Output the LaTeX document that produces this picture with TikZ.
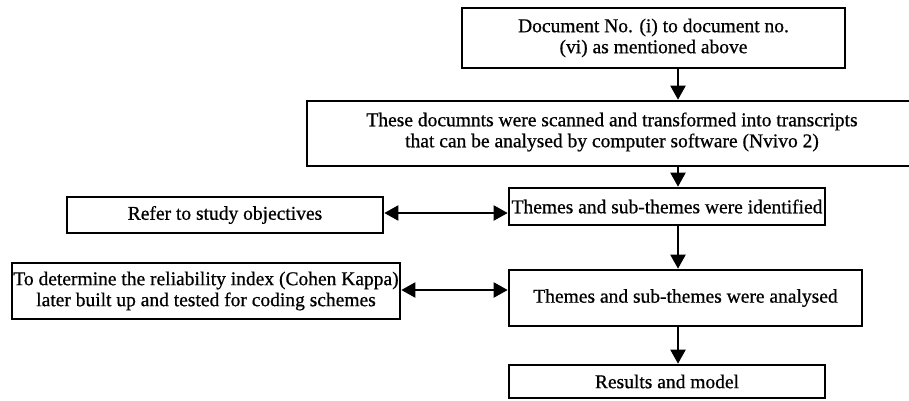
\documentclass[tikz,border=0pt]{standalone}
\usepackage{fontspec}
\setmainfont{Liberation Serif}[FakeBold=0.7]
\usetikzlibrary{arrows.meta}
\begin{document}
\begin{tikzpicture}[x=1pt,y=-1pt,
  box/.style={draw=black, line width=2.6pt, inner sep=0pt, align=center, font=\fontsize{19.5}{21}\selectfont},
  lbl/.style={inner sep=0pt, align=center, font=\fontsize{19.5}{21}\selectfont},
  arr/.style={line width=2pt, -{Triangle[length=14pt,width=15pt]}},
  dbl/.style={line width=2pt, {Triangle[length=14pt,width=15pt]}-{Triangle[length=14pt,width=15pt]}}]
\useasboundingbox (0,0) rectangle (909,400);
\fill[white] (0,0) rectangle (909,400);
\node[box, minimum width=383pt, minimum height=60pt] (b1) at (653.5,38) {Document No. (i) to document no.\\(vi) as mentioned above};
\node[box, minimum width=613pt, minimum height=65pt] (b2) at (613.5,133.5) {};
\node[lbl] (t2) at (612,132) {These documnts were scanned and transformed into transcripts\\that can be analysed by computer software (Nvivo 2)};
\node[box, minimum width=316pt, minimum height=37pt] (b3) at (667,206.5) {Themes and sub-themes were identified};
\node[box, minimum width=316pt, minimum height=36pt] (refer) at (225,215) {Refer to study objectives};
\node[box, minimum width=388pt, minimum height=56pt] (det) at (206,291) {To determine the reliability index (Cohen Kappa)\\later built up and tested for coding schemes};
\node[box, minimum width=353pt, minimum height=56pt] (b4) at (685.5,298) {Themes and sub-themes were analysed};
\node[box, minimum width=316pt, minimum height=33pt] (b5) at (667,381.5) {Results and model};
\coordinate (c1) at (678,0);
\draw[arr] (b1.south -| c1) -- (b2.north -| c1);
\draw[arr] (b2.south -| c1) -- (b3.north -| c1);
\draw[arr] (b3.south -| c1) -- (b4.north -| c1);
\draw[arr] (b4.south -| c1) -- (b5.north -| c1);
\coordinate (r1) at (0,213);
\coordinate (r2) at (0,290);
\draw[dbl] (refer.east |- r1) -- (b3.west |- r1);
\draw[dbl] (det.east |- r2) -- (b4.west |- r2);
\end{tikzpicture}
\end{document}
